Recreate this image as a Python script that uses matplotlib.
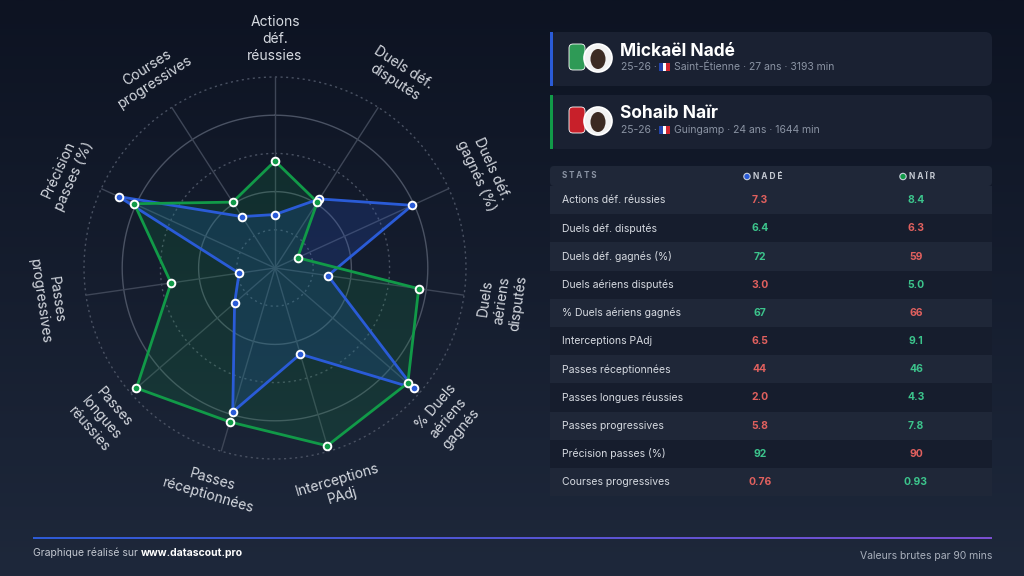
import numpy as np
import matplotlib
matplotlib.use("Agg")
import matplotlib.pyplot as plt
import matplotlib.patches as patches
from matplotlib.colors import LinearSegmentedColormap

plt.rcParams['font.family'] = ['Inter', 'DejaVu Sans']

# radar axes (clockwise from top)
radar_labels = ["Actions\ndéf.\nréussies", "Duels déf.\ndisputés", "Duels déf.\ngagnés (%)",
                "Duels\naériens\ndisputés", "% Duels\naériens\ngagnés", "Interceptions\nPAdj",
                "Passes\nréceptionnées", "Passes\nlongues\nréussies", "Passes\nprogressives",
                "Précision\npasses (%)", "Courses\nprogressives"]

# normalised radar positions (0-1)
nade_radar = [0.28, 0.43, 0.79, 0.28, 0.96, 0.47, 0.785, 0.28, 0.19, 0.90, 0.32]
nair_radar = [0.56, 0.41, 0.13, 0.76, 0.92, 0.97, 0.84, 0.96, 0.55, 0.81, 0.41]

# table
stat_names = ["Actions déf. réussies", "Duels déf. disputés", "Duels déf. gagnés (%)",
              "Duels aériens disputés", "% Duels aériens gagnés", "Interceptions PAdj",
              "Passes réceptionnées", "Passes longues réussies", "Passes progressives",
              "Précision passes (%)", "Courses progressives"]
nade_vals = ["7.3", "6.4", "72", "3.0", "67", "6.5", "44", "2.0", "5.8", "92", "0.76"]
nair_vals = ["8.4", "6.3", "59", "5.0", "66", "9.1", "46", "4.3", "7.8", "90", "0.93"]

players = ["Mickaël Nadé", "Sohaib Naïr"]
sub_left = ["25-26 ·", "25-26 ·"]
sub_right = ["Saint-Étienne · 27 ans · 3193 min", "Guingamp · 24 ans · 1644 min"]

BLUE = '#2a5bd7'
GREEN = '#119a48'
UP = '#3cc48c'
DOWN = '#e0605e'
TXT = '#d6dae1'
GREY = '#8a93a3'

fig = plt.figure(figsize=(10.24, 5.76), dpi=100)

# ---- background + overlay in pixel coords
ax = fig.add_axes([0, 0, 1, 1])
bg = LinearSegmentedColormap.from_list('bg', ['#0d1322', '#1e283b'])
grad = np.linspace(0, 1, 256).reshape(-1, 1)
ax.imshow(grad, cmap=bg, extent=[0, 1024, 576, 0], aspect='auto', zorder=0)
ax.set_xlim(0, 1024)
ax.set_ylim(576, 0)
ax.axis('off')

# player cards
for i, (col, name) in enumerate(zip([BLUE, GREEN], players)):
    y0 = 32 + i * 63
    ax.add_patch(patches.FancyBboxPatch((550, y0), 442, 54, boxstyle="round,pad=0,rounding_size=7",
                                        fc='#1a2132', ec='none', zorder=1))
    ax.add_patch(patches.Rectangle((550, y0), 3, 54, fc=col, ec='none', zorder=2))
    badge = '#2e9a56' if i == 0 else '#c8202a'
    ax.add_patch(patches.FancyBboxPatch((569, y0 + 12), 16, 26, boxstyle="round,pad=0,rounding_size=4",
                                        fc=badge, ec='white', lw=0.6, zorder=2))
    ax.add_patch(patches.Circle((598, y0 + 26), 14, fc='#f2f2f2', ec='white', lw=1.2, zorder=3))
    ax.add_patch(patches.Ellipse((598, y0 + 27), 15, 20, fc='#3b2a22', ec='none', zorder=4))
    ax.text(620, y0 + 19, name, color='white', fontsize=12.5, fontweight='bold', va='center', zorder=5)
    ax.text(621, y0 + 35, sub_left[i], color=GREY, fontsize=7.5, va='center', zorder=5)
    ax.add_patch(patches.Rectangle((659, y0 + 31), 3.7, 8, fc='#2244aa', ec='none', zorder=5))
    ax.add_patch(patches.Rectangle((662.7, y0 + 31), 3.7, 8, fc='white', ec='none', zorder=5))
    ax.add_patch(patches.Rectangle((666.4, y0 + 31), 3.7, 8, fc='#d22630', ec='none', zorder=5))
    ax.text(674, y0 + 35, sub_right[i], color=GREY, fontsize=7.5, va='center', zorder=5)

# table
col_x = [760, 916]
ax.add_patch(patches.FancyBboxPatch((550, 166), 442, 20, boxstyle="round,pad=0,rounding_size=4",
                                    fc='#1f2738', ec='none', zorder=1))
ax.text(562, 176, "S T A T S", color=GREY, fontsize=5.8, va='center', fontweight='bold')
for cx, lab, col in zip(col_x, ["N A D É", "N A Ï R"], [BLUE, GREEN]):
    ax.add_patch(patches.Circle((cx - 13, 176.5), 3.2, fc=col, ec='#c9d0dc', lw=0.8, zorder=3))
    ax.text(cx - 7, 176.5, lab, color='#c5cad3', fontsize=6, fontweight='bold', va='center')

row_h = 28.2
for i, stat in enumerate(stat_names):
    y0 = 186 + i * row_h
    fc = '#1f2738' if i % 2 == 0 else '#161d2d'
    ax.add_patch(patches.Rectangle((550, y0), 442, row_h, fc=fc, ec='none', zorder=1))
    yc = y0 + row_h / 2
    ax.text(562, yc, stat, color=TXT, fontsize=7.5, va='center', zorder=3)
    a, b = float(nade_vals[i]), float(nair_vals[i])
    ca = UP if a > b else DOWN
    cb = UP if b > a else DOWN
    ax.text(col_x[0], yc, nade_vals[i], color=ca, fontsize=7.5, fontweight='bold', ha='center', va='center', zorder=3)
    ax.text(col_x[1], yc, nair_vals[i], color=cb, fontsize=7.5, fontweight='bold', ha='center', va='center', zorder=3)

# footer
line_cm = LinearSegmentedColormap.from_list('ln', ['#2d5bd6', '#7a4fd0'])
ax.imshow(np.linspace(0, 1, 256).reshape(1, -1), cmap=line_cm, extent=[33, 992, 539.3, 537.3],
          aspect='auto', zorder=2)
ax.set_xlim(0, 1024)
ax.set_ylim(576, 0)
t = ax.text(33, 553, "Graphique réalisé sur ", color='#c3c8d1', fontsize=7.5, va='center')
fig.canvas.draw()
bb = t.get_window_extent()
x_end = ax.transData.inverted().transform((bb.x1, bb.y0))[0]
ax.text(x_end, 553, "www.datascout.pro", color='white', fontsize=7.5, fontweight='bold', va='center')
ax.text(992, 556, "Valeurs brutes par 90 mins", color='#a9b0bc', fontsize=7.5, ha='right', va='center')

# ---- radar
cx, cy, R = 275, 268, 191
pax = fig.add_axes([(cx - R) / 1024, (576 - cy - R) / 576, 2 * R / 1024, 2 * R / 576], projection='polar')
pax.set_facecolor('none')
pax.set_theta_zero_location('N')
pax.set_theta_direction(-1)
pax.set_ylim(0, 1)
pax.grid(False)
pax.spines['polar'].set_visible(False)
pax.set_xticks([])
pax.set_yticks([])

n = len(radar_labels)
theta = np.arange(n) * 2 * np.pi / n
circ = np.linspace(0, 2 * np.pi, 361)
for k, r in enumerate([0.2, 0.4, 0.6, 0.8, 1.0]):
    ls = (0, (1.5, 2.5)) if k % 2 == 0 else '-'
    pax.plot(circ, np.full_like(circ, r), color='#4a5263', lw=1, ls=ls, zorder=1, clip_on=False)
for th in theta:
    pax.plot([th, th], [0, 1], color='#3e4657', lw=1, zorder=1)

for vals, col, fa in [(nade_radar, BLUE, 0.2), (nair_radar, GREEN, 0.17)]:
    th = np.append(theta, theta[0])
    v = np.append(vals, vals[0])
    pax.fill(th, v, color=col, alpha=fa, zorder=2, lw=0)
    pax.plot(th, v, color=col, lw=2, zorder=3)
    pax.plot(theta, vals, 'o', ms=5.5, mfc=col, mec='white', mew=1.4, zorder=4, ls='none')

for th, lab in zip(theta, radar_labels):
    deg = np.degrees(th)
    rot = -deg
    if 90 < deg < 270:
        rot += 180
    pax.text(th, 1.2, lab, rotation=rot, rotation_mode='anchor', ha='center', va='center',
             color=TXT, fontsize=10, linespacing=1.25, clip_on=False)

fig.savefig('out.png', dpi=100)
